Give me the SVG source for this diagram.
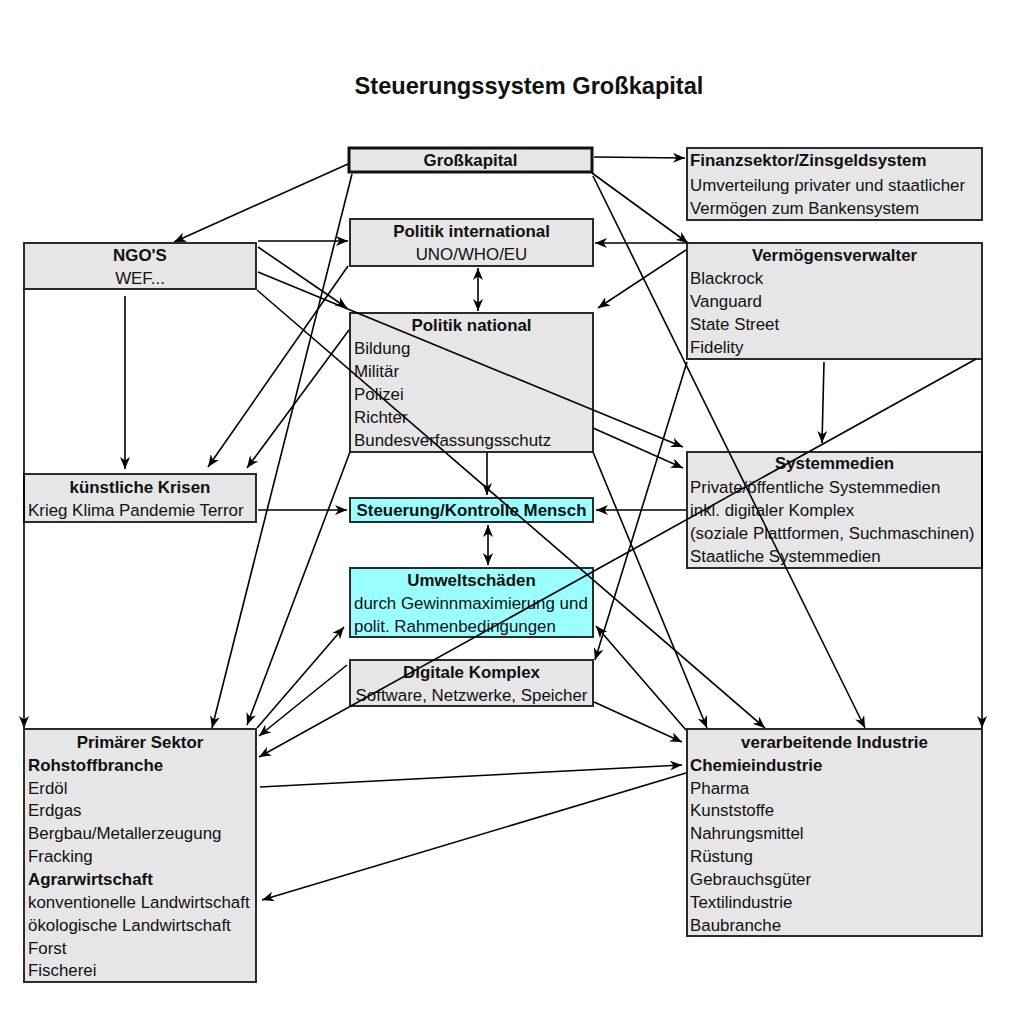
<svg xmlns="http://www.w3.org/2000/svg" width="1009" height="1024" viewBox="0 0 1009 1024">
<defs>
<style>
.b{fill:#e6e6e6;stroke:#2b2b2b;stroke-width:2}
.c{fill:#99ffff;stroke:#2b2b2b;stroke-width:2}
text{font-family:"Liberation Sans",Arial,sans-serif;font-size:16.9px;fill:#111}
.h{font-weight:bold}
.m{text-anchor:middle}
.t{font-size:23.6px;font-weight:bold;text-anchor:middle}
#conn line{stroke:#000;stroke-width:1.6;fill:none;marker-end:url(#a)}
#conn line.d{marker-start:url(#a)}
</style>
<marker id="a" viewBox="0 0 12 10" refX="12" refY="5" markerWidth="12" markerHeight="10" markerUnits="userSpaceOnUse" orient="auto-start-reverse">
<path d="M0,0 L12,5 L0,10 L3.5,5 z" fill="#000"/>
</marker>
</defs>
<rect width="1009" height="1024" fill="#fff"/>
<text class="t" x="529" y="94">Steuerungssystem Großkapital</text>

<g id="grosskapital"><rect class="b" x="349" y="148" width="243" height="24" style="stroke-width:3;stroke:#111"/><text class="h m" x="470.5" y="166">Großkapital</text></g>

<g id="finanzsektor"><rect class="b" x="687" y="148" width="295" height="72"/>
<text class="h" x="690" y="166">Finanzsektor/Zinsgeldsystem</text>
<text x="690" y="191">Umverteilung privater und staatlicher</text>
<text x="690" y="214">Vermögen zum Bankensystem</text></g>

<g id="ngo"><rect class="b" x="24" y="243" width="232" height="46"/>
<text class="h m" x="140" y="261">NGO'S</text>
<text class="m" x="140" y="284">WEF...</text></g>

<g id="politik-international"><rect class="b" x="350" y="219" width="243" height="47"/>
<text class="h m" x="471.5" y="237">Politik international</text>
<text class="m" x="471.5" y="260">UNO/WHO/EU</text></g>

<g id="vermoegensverwalter"><rect class="b" x="687" y="243" width="295" height="116"/>
<text class="h m" x="834.5" y="261">Vermögensverwalter</text>
<text x="690" y="284">Blackrock</text>
<text x="690" y="307">Vanguard</text>
<text x="690" y="330">State Street</text>
<text x="690" y="353">Fidelity</text></g>

<g id="politik-national"><rect class="b" x="350" y="313" width="243" height="139"/>
<text class="h m" x="471.5" y="331">Politik national</text>
<text x="354" y="354">Bildung</text>
<text x="354" y="377">Militär</text>
<text x="354" y="400">Polizei</text>
<text x="354" y="423">Richter</text>
<text x="354" y="446">Bundesverfassungsschutz</text></g>

<g id="kuenstliche-krisen"><rect class="b" x="24" y="474" width="232" height="48"/>
<text class="h m" x="140" y="493">künstliche Krisen</text>
<text x="28" y="516">Krieg Klima Pandemie Terror</text></g>

<g id="steuerung"><rect class="c" x="350" y="498" width="243" height="24"/>
<text class="h m" x="471.5" y="516">Steuerung/Kontrolle Mensch</text></g>

<g id="systemmedien"><rect class="b" x="687" y="452" width="295" height="116"/>
<text class="h m" x="834.5" y="469">Systemmedien</text>
<text x="690" y="493">Private/öffentliche Systemmedien</text>
<text x="690" y="516">inkl. digitaler Komplex</text>
<text x="690" y="539">(soziale Plattformen, Suchmaschinen)</text>
<text x="690" y="562">Staatliche Systemmedien</text></g>

<g id="umweltschaeden"><rect class="c" x="350" y="568" width="243" height="69"/>
<text class="h m" x="471.5" y="586">Umweltschäden</text>
<text x="354" y="609">durch Gewinnmaximierung und</text>
<text x="354" y="632">polit. Rahmenbedingungen</text></g>

<g id="digitale-komplex"><rect class="b" x="350" y="660" width="243" height="46"/>
<text class="h m" x="471.5" y="678">Digitale Komplex</text>
<text class="m" x="471.5" y="701">Software, Netzwerke, Speicher</text></g>

<g id="primaerer-sektor"><rect class="b" x="24" y="729" width="232" height="253"/>
<text class="h m" x="140" y="748">Primärer Sektor</text>
<text class="h" x="28" y="771">Rohstoffbranche</text>
<text x="28" y="794">Erdöl</text>
<text x="28" y="816">Erdgas</text>
<text x="28" y="839">Bergbau/Metallerzeugung</text>
<text x="28" y="862">Fracking</text>
<text class="h" x="28" y="885">Agrarwirtschaft</text>
<text x="28" y="908">konventionelle Landwirtschaft</text>
<text x="28" y="931">ökologische Landwirtschaft</text>
<text x="28" y="954">Forst</text>
<text x="28" y="976">Fischerei</text></g>

<g id="verarbeitende-industrie"><rect class="b" x="687" y="729" width="295" height="207"/>
<text class="h m" x="834.5" y="748">verarbeitende Industrie</text>
<text class="h" x="690" y="771">Chemieindustrie</text>
<text x="690" y="794">Pharma</text>
<text x="690" y="816">Kunststoffe</text>
<text x="690" y="839">Nahrungsmittel</text>
<text x="690" y="862">Rüstung</text>
<text x="690" y="885">Gebrauchsgüter</text>
<text x="690" y="908">Textilindustrie</text>
<text x="690" y="931">Baubranche</text></g>

<g id="conn">
<line x1="594" y1="157" x2="685" y2="158"/>
<line x1="348" y1="164" x2="174" y2="242"/>
<line x1="592" y1="173" x2="688" y2="243"/>
<line x1="352" y1="174" x2="212" y2="728"/>
<line x1="593" y1="176" x2="865" y2="728"/>
<line x1="258" y1="241" x2="348" y2="241"/>
<line x1="258" y1="247" x2="347" y2="308"/>
<line x1="258" y1="272" x2="683" y2="447"/>
<line x1="257" y1="290" x2="765" y2="728"/>
<line x1="125" y1="296" x2="125" y2="469"/>
<line x1="24" y1="289" x2="24" y2="728"/>
<line class="d" x1="478" y1="268" x2="478" y2="311"/>
<line x1="686" y1="243" x2="595" y2="243"/>
<line x1="686" y1="250" x2="598" y2="308"/>
<line x1="348" y1="266" x2="208" y2="467"/>
<line x1="349" y1="330" x2="247" y2="468"/>
<line x1="824" y1="362" x2="822" y2="443"/>
<line x1="687" y1="362" x2="595" y2="660"/>
<line x1="976" y1="359" x2="259" y2="757"/>
<line x1="982" y1="359" x2="982" y2="728"/>
<line x1="593" y1="428" x2="683" y2="468"/>
<line x1="487" y1="452" x2="487" y2="495"/>
<line x1="593" y1="452" x2="707" y2="728"/>
<line x1="350" y1="452" x2="247" y2="725"/>
<line x1="686" y1="510" x2="596" y2="510"/>
<line x1="258" y1="510" x2="347" y2="510"/>
<line class="d" x1="488" y1="525" x2="488" y2="565"/>
<line x1="257" y1="728" x2="344" y2="627"/>
<line x1="686" y1="730" x2="596" y2="626"/>
<line x1="347" y1="665" x2="259" y2="736"/>
<line x1="594" y1="702" x2="682" y2="742"/>
<line x1="260" y1="787" x2="682" y2="765"/>
<line x1="686" y1="773" x2="262" y2="900"/>
</g>
</svg>
